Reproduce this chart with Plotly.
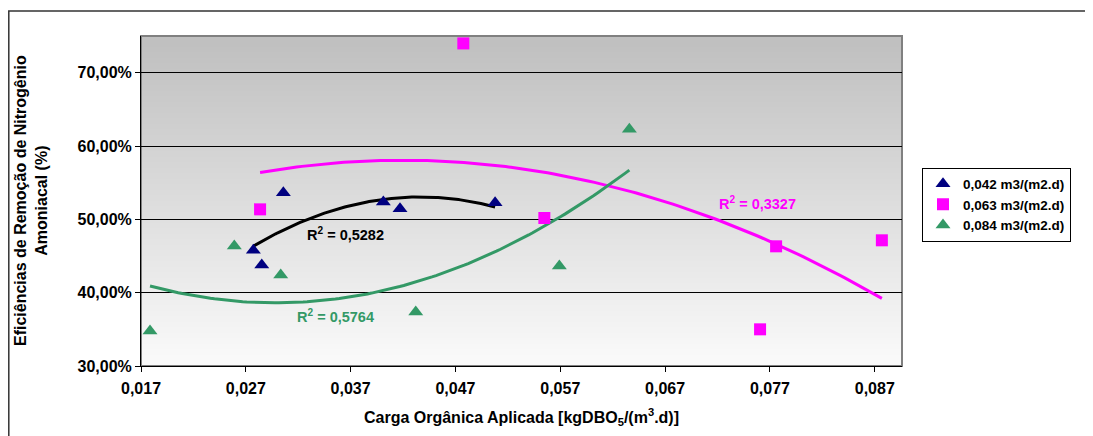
import numpy as np
import plotly.graph_objects as go

# ---- data ----
x_042 = [0.02772, 0.02852, 0.03058, 0.04012, 0.04171, 0.05078]
y_042 = [0.4577, 0.4377, 0.5364, 0.5236, 0.5146, 0.5227]

x_063 = [0.02836, 0.04775, 0.05548, 0.07606, 0.07759, 0.08768]
y_063 = [0.5136, 0.7399, 0.5018, 0.3500, 0.4632, 0.4714]

x_084 = [0.01786, 0.02590, 0.03033, 0.04321, 0.05691, 0.06359]
y_084 = [0.3477, 0.4636, 0.4240, 0.3736, 0.4363, 0.6228]

series_names = ["0,042 m3/(m2.d)", "0,063 m3/(m2.d)", "0,084 m3/(m2.d)"]
r2_labels = ["R<sup>2</sup> = 0,5282", "R<sup>2</sup> = 0,3327", "R<sup>2</sup> = 0,5764"]
r2_pos = [(0.03647, 0.4795), (0.07578, 0.5218), (0.03551, 0.3677)]

x_ticks = [0.017, 0.027, 0.037, 0.047, 0.057, 0.067, 0.077, 0.087]
x_ticktext = ["0,017", "0,027", "0,037", "0,047", "0,057", "0,067", "0,077", "0,087"]
y_ticks = [0.30, 0.40, 0.50, 0.60, 0.70]
y_ticktext = ["30,00%", "40,00%", "50,00%", "60,00%", "70,00%"]

marker_colors = ["#000080", "#FF00FF", "#339966"]
trend_colors = ["#000000", "#FF00FF", "#339966"]
symbols = ["triangle-up", "square", "triangle-up"]
sizes = [13, 12, 13]

FONT = "Liberation Sans, Arial, sans-serif"

# page body has an 8px margin; the figure is sized/offset to compensate
OFF = 8
W, H = 1093 - OFF, 436 - OFF
PL, PR, PT, PB = 141, 902, 36, 366   # plot area in window pixels
PW, PH = PR - PL, PB - PT

fig = go.Figure()

datasets = [(x_042, y_042), (x_063, y_063), (x_084, y_084)]

# polynomial (order 2) trendlines, as in the original spreadsheet
for (xs, ys), col in zip(datasets, trend_colors):
    c = np.polyfit(xs, ys, 2)
    xx = np.linspace(min(xs), max(xs), 120)
    fig.add_trace(go.Scatter(x=xx, y=np.polyval(c, xx), mode="lines",
                             line=dict(color=col, width=3), showlegend=False,
                             hoverinfo="skip"))

for (xs, ys), name, col, sym, sz in zip(datasets, series_names, marker_colors, symbols, sizes):
    fig.add_trace(go.Scatter(x=xs, y=ys, mode="markers", name=name,
                             marker=dict(color=col, symbol=sym, size=sz, line=dict(width=0))))

for txt, (ax, ay), col in zip(r2_labels, r2_pos, trend_colors):
    fig.add_annotation(x=ax, y=ay, xref="x", yref="y", text=txt, showarrow=False,
                       font=dict(family=FONT, size=14.5, color=col, weight="bold"))

# gradient plot background
n = 60
top = np.array([192, 192, 192])
bot = np.array([250, 250, 250])
shapes = []
for i in range(n):
    t = i / (n - 1)
    c = (bot + (top - bot) * t).astype(int)
    shapes.append(dict(type="rect", xref="x domain", yref="y domain",
                       x0=0, x1=1, y0=i / n, y1=(i + 1) / n + 0.002,
                       fillcolor=f"rgb({c[0]},{c[1]},{c[2]})", line=dict(width=0),
                       layer="below"))
shapes.append(dict(type="rect", xref="x domain", yref="y domain", x0=0, x1=1, y0=0, y1=1,
                   line=dict(color="#808080", width=2), fillcolor="rgba(0,0,0,0)",
                   layer="below"))
# outer chart frame
shapes.append(dict(type="rect", xref="paper", yref="paper",
                   x0=(OFF + 0.8 - PL) / PW, x1=1.5, y0=-0.5, y1=(PB - 11) / PH,
                   line=dict(color="#333333", width=1.5), fillcolor="rgba(0,0,0,0)",
                   layer="above"))

fig.update_layout(
    width=W, height=H,
    margin=dict(l=PL - OFF, r=W - (PR - OFF), t=PT - OFF, b=H - (PB - OFF)),
    paper_bgcolor="white", plot_bgcolor="white",
    font=dict(family=FONT, size=14, color="black"),
    shapes=shapes,
    showlegend=True,
    legend=dict(x=(922 - PL) / PW, y=(PB - 204.5) / PH, xanchor="left", yanchor="middle",
                bordercolor="black", borderwidth=1, bgcolor="white",
                font=dict(family=FONT, size=13.5, color="black", weight="bold"),
                itemwidth=30, tracegroupgap=0),
    xaxis=dict(range=[0.017, 0.0896], tickvals=x_ticks, ticktext=x_ticktext,
               showgrid=False, zeroline=False, showline=True, linecolor="black",
               linewidth=1, ticks="outside", ticklen=5, tickcolor="black",
               ticklabelstandoff=3,
               tickfont=dict(family=FONT, size=16, color="black", weight="bold"),
               title=dict(text="Carga Orgânica Aplicada [kgDBO<sub>5</sub>/(m<sup>3</sup>.d)]",
                          font=dict(family=FONT, size=16, color="black", weight="bold"),
                          standoff=15)),
    yaxis=dict(range=[0.30, 0.75], tickvals=y_ticks, ticktext=y_ticktext,
               showgrid=True, gridcolor="black", gridwidth=1, zeroline=False,
               showline=True, linecolor="black", linewidth=1,
               ticks="outside", ticklen=5, tickcolor="black",
               tickfont=dict(family=FONT, size=16, color="black", weight="bold")),
)

fig.add_annotation(x=(31 - PL) / PW, y=0.5, xref="paper", yref="paper",
                   text="Eficiências de Remoção de Nitrogênio<br>Amoniacal (%)",
                   textangle=-90, showarrow=False, xanchor="center", yanchor="middle",
                   font=dict(family=FONT, size=16, color="black", weight="bold"))

fig.write_html("out.html")
